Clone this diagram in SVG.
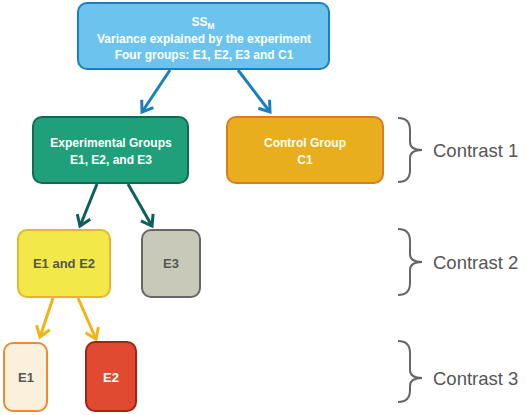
<svg xmlns="http://www.w3.org/2000/svg" width="527" height="415" viewBox="0 0 527 415">
<style>
.t{font-family:"Liberation Sans",Arial,sans-serif;font-weight:bold;font-size:12px;text-anchor:middle}
.s{font-size:13px}
.w{fill:#ffffff}
.g{fill:#555555}
.c{font-family:"Liberation Sans",Arial,sans-serif;font-size:18.5px;fill:#555555}
.br{fill:none;stroke:#666666;stroke-width:2}
</style>
<defs>
<marker id="ab" markerUnits="userSpaceOnUse" markerWidth="24" markerHeight="24" viewBox="-12 -12 24 24" refX="0" refY="0" orient="auto"><path d="M-10,-7 L0,0 L-10,7" fill="none" stroke="#1a7fc0" stroke-width="3"/></marker>
<marker id="at" markerUnits="userSpaceOnUse" markerWidth="24" markerHeight="24" viewBox="-12 -12 24 24" refX="0" refY="0" orient="auto"><path d="M-10,-7 L0,0 L-10,7" fill="none" stroke="#0e5e5a" stroke-width="3"/></marker>
<marker id="ay" markerUnits="userSpaceOnUse" markerWidth="24" markerHeight="24" viewBox="-12 -12 24 24" refX="0" refY="0" orient="auto"><path d="M-10,-7 L0,0 L-10,7" fill="none" stroke="#f0b419" stroke-width="3"/></marker>
</defs>
<rect width="527" height="415" fill="#ffffff"/>
<g id="connectors">
<line x1="170" y1="70" x2="142" y2="112" stroke="#1a7fc0" stroke-width="3" marker-end="url(#ab)"/>
<line x1="238" y1="70" x2="270" y2="112" stroke="#1a7fc0" stroke-width="3" marker-end="url(#ab)"/>
<line x1="97" y1="184" x2="80" y2="226" stroke="#0e5e5a" stroke-width="3" marker-end="url(#at)"/>
<line x1="128" y1="184" x2="152" y2="226" stroke="#0e5e5a" stroke-width="3" marker-end="url(#at)"/>
<line x1="53" y1="298" x2="40" y2="337" stroke="#f0b419" stroke-width="3" marker-end="url(#ay)"/>
<line x1="78" y1="298" x2="96" y2="339" stroke="#f0b419" stroke-width="3" marker-end="url(#ay)"/>
</g>
<g id="ssm">
<rect x="78" y="3" width="251" height="66" rx="9" fill="#6cc4ee" stroke="#1a7fc0" stroke-width="2"/>
<text class="t w" x="203" y="26" font-size="13">SS<tspan font-size="8.5" dy="3">M</tspan></text>
<text class="t w" x="204" y="43" font-size="12.8">Variance explained by the experiment</text>
<text class="t w" x="204" y="59" font-size="12.8">Four groups: E1, E2, E3 and C1</text>
</g>
<g id="experimental">
<rect x="33" y="117" width="155" height="66" rx="9" fill="#1fa07a" stroke="#0f6b58" stroke-width="2"/>
<text class="t w" x="111" y="147">Experimental Groups</text>
<text class="t w" x="111" y="164">E1, E2, and E3</text>
</g>
<g id="control">
<rect x="227" y="117" width="156" height="66" rx="9" fill="#e8ae1e" stroke="#e07a20" stroke-width="2"/>
<text class="t w" x="305" y="147">Control Group</text>
<text class="t w" x="305" y="164">C1</text>
</g>
<g id="e1e2">
<rect x="18" y="230" width="92" height="67" rx="9" fill="#f3e84a" stroke="#e8b52a" stroke-width="2"/>
<text class="t s g" x="64" y="268">E1 and E2</text>
</g>
<g id="e3">
<rect x="142" y="230" width="58" height="67" rx="9" fill="#c9c9b9" stroke="#666666" stroke-width="2"/>
<text class="t s g" x="171" y="268">E3</text>
</g>
<g id="e1">
<rect x="4" y="343" width="43" height="68" rx="9" fill="#fbf0dc" stroke="#f08a30" stroke-width="2"/>
<text class="t s g" x="26" y="382">E1</text>
</g>
<g id="e2">
<rect x="86" y="342" width="50" height="69" rx="9" fill="#e04a30" stroke="#a8201a" stroke-width="2"/>
<text class="t s w" x="111" y="382">E2</text>
</g>
<g id="contrast1">
<path class="br" d="M398,118 Q410,118 410,130 L410,142 Q410,150 422,150 Q410,150 410,158 L410,170 Q410,182 398,182"/>
<text class="c" x="433" y="157">Contrast 1</text>
</g>
<g id="contrast2">
<path class="br" d="M398,229 Q410,229 410,241 L410,254 Q410,262 422,262 Q410,262 410,270 L410,283 Q410,295 398,295"/>
<text class="c" x="433" y="269">Contrast 2</text>
</g>
<g id="contrast3">
<path class="br" d="M398,341 Q410,341 410,353 L410,370 Q410,378 422,378 Q410,378 410,386 L410,390 Q410,402 398,402"/>
<text class="c" x="433" y="385">Contrast 3</text>
</g>
</svg>
